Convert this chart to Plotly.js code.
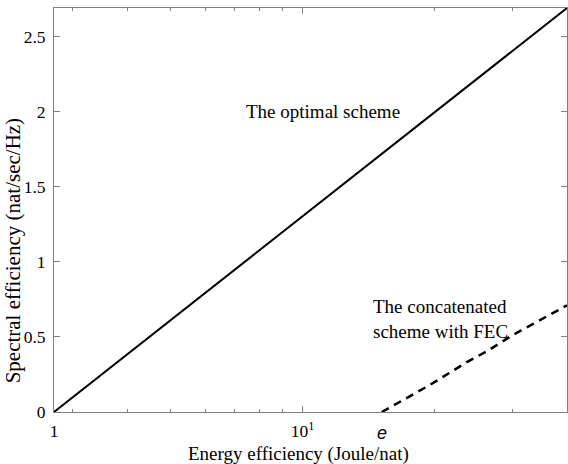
<!DOCTYPE html>
<html>
<head>
<meta charset="utf-8">
<script src="https://cdn.plot.ly/plotly-3.0.1.min.js"></script>
<style>html,body{margin:0;padding:0;background:#fff;}#chart{width:568px;height:464px;}</style>
</head>
<body>
<div id="chart"></div>
<script>
// Energy efficiency (x, log scale) and spectral efficiency (y)
var optimalX = [Math.E, 5, 10, 20, 40];
var optimalY = [0, 0.61, 1.30, 2.00, 2.689];
var fecX = [15.15, 19.5, 23.6, 26.5, 30.0, 35.0, 40];
var fecY = [0, 0.18, 0.33, 0.41, 0.51, 0.62, 0.71];
var xTickVals = [Math.E, 10];
var xTickText = ['1', '10<sup>1</sup>'];
var xMinorVals = [3, 4, 5, 6, 7, 8, 9, 20, 30];
var yTickVals = [0, 0.5, 1, 1.5, 2, 2.5];
var yTickText = ['0', '0.5', '1', '1.5', '2', '2.5'];

var traces = [
  {x: optimalX, y: optimalY, mode: 'lines', line: {color: '#000', width: 2}, name: 'The optimal scheme', showlegend: false},
  {x: fecX, y: fecY, mode: 'lines', line: {color: '#000', width: 2.5, dash: '8px,6px'}, name: 'The concatenated scheme with FEC', showlegend: false}
];
var axisFont = {family: 'Liberation Sans Narrow', size: 17.5, color: '#000'};
var serifFont = {family: 'Liberation Serif', size: 19, color: '#000'};
var layout = {
  width: 568, height: 464,
  margin: {l: 54, r: 1, t: 8, b: 52},
  paper_bgcolor: '#fff', plot_bgcolor: '#fff',
  xaxis: {
    type: 'log', range: [Math.log10(Math.E), Math.log10(40)],
    tickmode: 'array', tickvals: xTickVals, ticktext: xTickText,
    ticks: 'inside', ticklen: 6, tickcolor: '#808080', ticklabelstandoff: 3,
    minor: {tickmode: 'array', tickvals: xMinorVals, ticks: 'inside', ticklen: 3, tickcolor: '#808080', showgrid: false},
    showline: true, linecolor: '#808080', linewidth: 1, mirror: 'ticks',
    showgrid: false, zeroline: false, tickfont: axisFont
  },
  yaxis: {
    range: [0, 2.689], tickmode: 'array', tickvals: yTickVals, ticktext: yTickText,
    ticks: 'inside', ticklen: 6, tickcolor: '#808080', ticklabelstandoff: 4,
    showline: true, linecolor: '#808080', linewidth: 1, mirror: 'ticks',
    showgrid: false, zeroline: false, tickfont: axisFont
  },
  showlegend: false,
  annotations: [
    {xref: 'paper', yref: 'paper', x: 0.476, y: -0.104, text: 'Energy efficiency (Joule/nat)', showarrow: false, xanchor: 'center', yanchor: 'middle', font: serifFont},
    {xref: 'paper', yref: 'paper', xanchor: 'center', yanchor: 'middle', x: -0.08, y: 0.4, text: 'Spectral efficiency (nat/sec/Hz)', textangle: -90, showarrow: false, font: {family: 'Liberation Serif', size: 21, color: '#000'}},
    {xref: 'x', yref: 'y', x: Math.log10(Math.exp(Math.E)), y: 0, text: '<i>e</i>', showarrow: false, yanchor: 'top', yshift: -9, font: {family: 'Liberation Sans', size: 18, color: '#000'}},
    {xref: 'paper', yref: 'y', x: 0.525, y: 2.0, text: 'The optimal scheme', showarrow: false, xanchor: 'center', font: serifFont},
    {xref: 'paper', yref: 'y', x: 0.617, y: 0.62, text: 'The concatenated<br>scheme with FEC', align: 'left', showarrow: false, xanchor: 'left', font: serifFont}
  ]
};
Plotly.newPlot('chart', traces, layout, {displayModeBar: false, staticPlot: true});
</script>
</body>
</html>
